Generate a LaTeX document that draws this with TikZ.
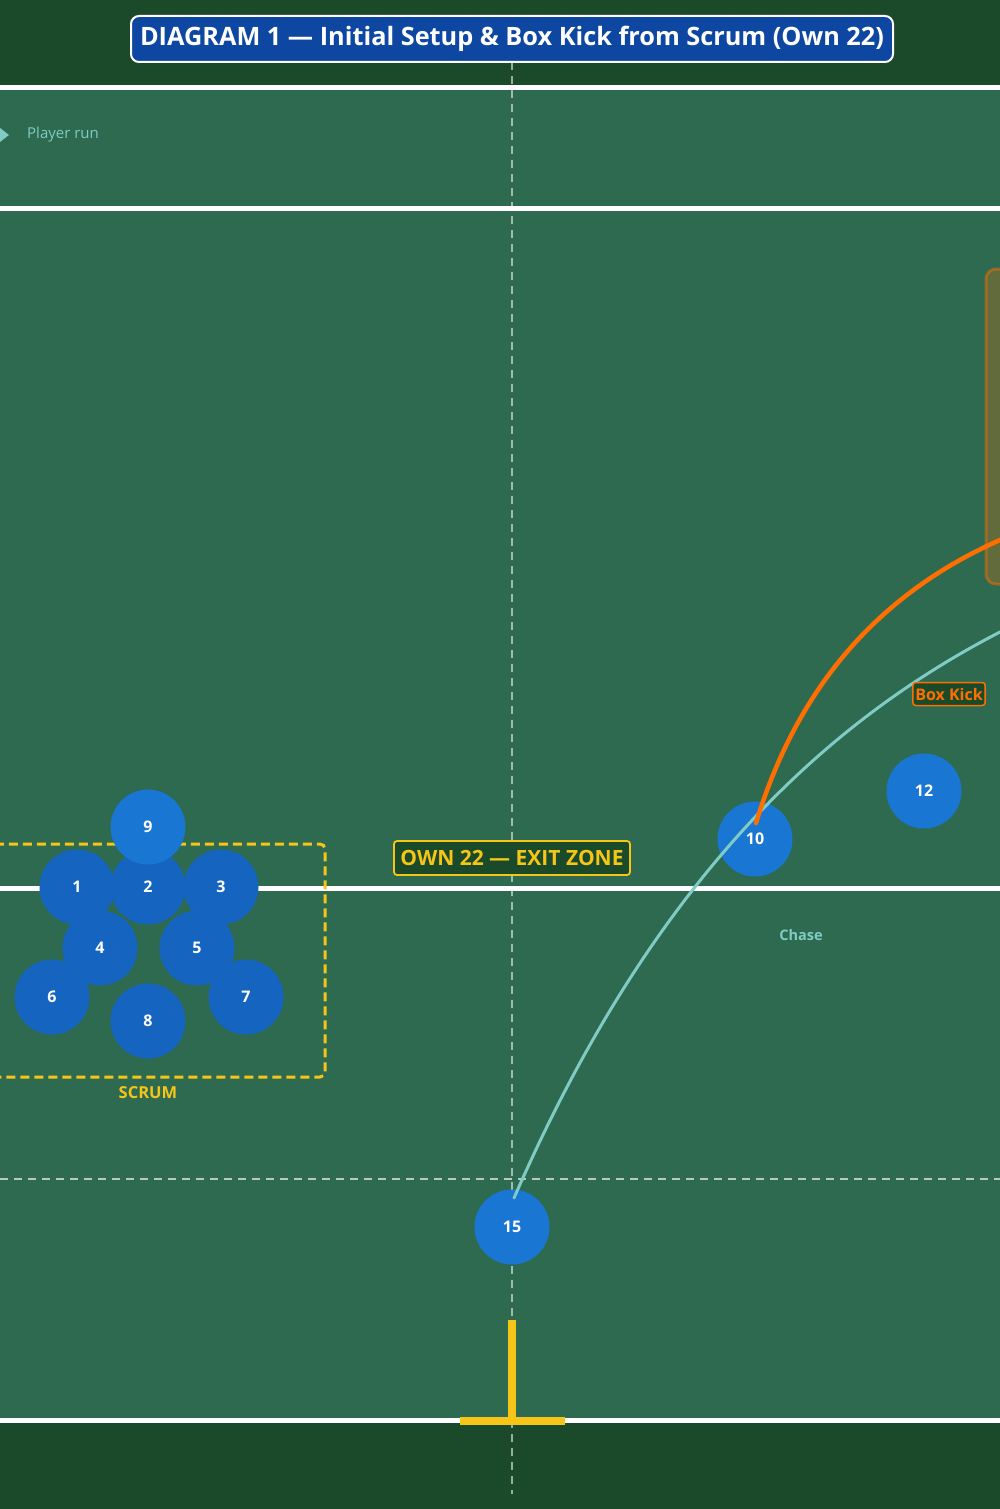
\documentclass[tikz,border=0pt]{standalone}
\usepackage{fontspec}
\setmainfont{Open Sans}
\usetikzlibrary{arrows.meta}

\definecolor{pitchdark}{HTML}{1B4A2B}
\definecolor{pitch}{HTML}{2E6A50}
\definecolor{titleblue}{HTML}{0D47A1}
\definecolor{fwdblue}{HTML}{1565C0}
\definecolor{backblue}{HTML}{1976D2}
\definecolor{gold}{HTML}{F5C518}
\definecolor{kickorange}{HTML}{FF6F00}
\definecolor{chaseteal}{HTML}{80CBC4}

\begin{document}
\begin{tikzpicture}[x=1pt,y=-1pt,
  fwd node/.style={circle,fill=fwdblue,minimum size=75pt,inner sep=0pt,
    text=white,font=\bfseries\fontsize{16}{19}\selectfont},
  back node/.style={fwd node,fill=backblue},
  zone tag/.style={draw,fill=pitchdark,rounded corners=3pt,line width=1.8pt,
    inner sep=3pt},
  pitch line/.style={white,line width=5pt},
  guide/.style={white,opacity=.55,line width=2pt,dash pattern=on 8pt off 6pt}]

  \useasboundingbox (0,0) rectangle (1000,1509);
  \clip (0,0) rectangle (1000,1509);

  % pitch
  \fill[pitchdark] (0,0) rectangle (1000,1509);
  \fill[pitch] (0,88) rectangle (1000,1420);
  \draw[pitch line] (0,88) -- (1000,88);
  \draw[pitch line] (0,208) -- (1000,208);
  \draw[pitch line] (0,888) -- (1000,888);
  \draw[pitch line] (0,1420) -- (1000,1420);
  \draw[guide] (512,62) -- (512,1494);
  \draw[guide,opacity=.65,line width=2.5pt] (0,1179) -- (1000,1179);

  % posts
  \fill[gold] (508,1320) rectangle (516,1420);
  \fill[gold] (460,1417) rectangle (565,1425);

  % landing zone
  \draw[kickorange,draw opacity=.45,fill opacity=.25,fill=kickorange,
    line width=3pt,rounded corners=10pt] (986,269) rectangle (1050,584);

  % scrum
  \draw[gold,line width=3pt,dash pattern=on 9pt off 5pt,rounded corners=5pt]
    (-20,844) rectangle (325,1077);
  \node[font=\bfseries\fontsize{16.5}{19}\selectfont,text=gold] (scrum) at (148,1093) {SCRUM};

  \node[fwd node] (1) at (77,887) {1};
  \node[fwd node] (3) at (221,887) {3};
  \node[fwd node] (2) at (148,887) {2};
  \node[fwd node] (6) at (52,997) {6};
  \node[fwd node] (7) at (246,997) {7};
  \node[fwd node] (4) at (100,948) {4};
  \node[fwd node] (5) at (197,948) {5};
  \node[fwd node] (8) at (148,1021) {8};
  \node[back node] (9) at (148,827) {9};
  \node[back node] (10) at (755,839) {10};
  \node[back node] (12) at (924,791) {12};
  \node[back node] (15) at (512,1227) {15};

  \coordinate (drop) at (1000,540);
  \coordinate (chase end) at (1000,632);

  % runs
  \draw[chaseteal,line width=3pt,line cap=round]
    ([shift={(2,-29)}]15.center) .. controls (650,886) and (820,725) .. (chase end);
  \draw[kickorange,line width=4.5pt,line cap=round]
    ([shift={(1,-16)}]10.center) .. controls (797,688) and (878,594) .. (drop);

  \node[zone tag,draw=kickorange,text=kickorange,line width=1.5pt,inner sep=2.5pt,
    minimum height=23pt,font=\bfseries\fontsize{16}{18}\selectfont] (kick) at (949,694) {Box Kick};
  \node[zone tag,draw=gold,text=gold,minimum width=236pt,minimum height=34pt,
    font=\bfseries\fontsize{21}{24}\selectfont] (own22) at (512,858) {OWN 22 — EXIT ZONE};
  \node[text=chaseteal,font=\bfseries\fontsize{14.5}{17}\selectfont] (chase) at (801,935) {Chase};

  % legend
  \coordinate (run tail) at (-40,135);
  \coordinate (run tip) at (9,135);
  \draw[chaseteal,line width=3pt,-{Triangle[length=10pt,width=15pt]}] (run tail) -- (run tip);
  \node[text=chaseteal,anchor=west,inner sep=0pt,font=\fontsize{15}{17}\selectfont] (legend) at (27,135) {Player run};

  \node[draw=white,line width=2pt,fill=titleblue,rounded corners=8pt,text=white,
    minimum width=762pt,minimum height=46pt,inner sep=0pt,
    font=\bfseries\fontsize{25.3}{29}\selectfont] (title) at (512,39)
    {DIAGRAM 1 — Initial Setup \& Box Kick from Scrum (Own 22)};

\end{tikzpicture}
\end{document}
